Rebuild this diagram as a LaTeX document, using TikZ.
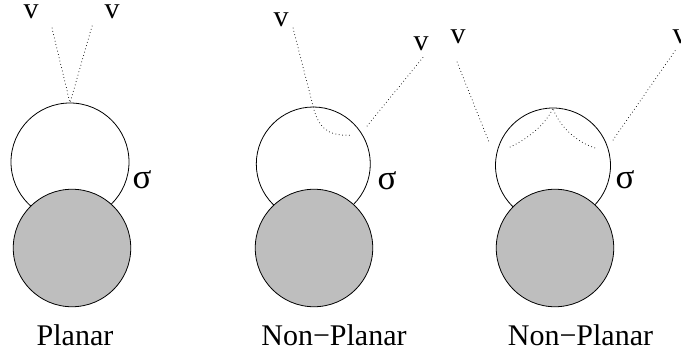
\documentclass[tikz,border=0pt]{standalone}
\usepackage{fontspec}
\setmainfont{Liberation Serif}
\definecolor{sphgray}{RGB}{190,190,190}
\begin{document}
\begin{tikzpicture}[x=1pt,y=-1pt,
  wsph/.style={circle,draw=black,line width=0.8pt,fill=white,inner sep=0pt,outer sep=0pt},
  gsph/.style={circle,draw=black,line width=0.8pt,fill=sphgray,inner sep=0pt,outer sep=0pt,minimum size=117.5pt},
  dotline/.style={line width=1pt,line cap=round,dash pattern=on 0pt off 3.4pt},
  lbl/.style={anchor=base,inner sep=0pt,font=\fontsize{30}{36}\selectfont},
  slbl/.style={anchor=base,inner sep=0pt,font=\fontsize{35}{40}\selectfont},
  vlbl/.style={anchor=base,inner sep=0pt,font=\fontsize{30}{36}\selectfont}
]
\useasboundingbox (0,0) rectangle (681,356);

% white spheres
\node[wsph,minimum size=118pt] (w1) at (70,162) {};
\node[wsph,minimum size=114pt] (w2) at (313.3,164) {};
\node[wsph,minimum size=115pt] (w3) at (553,165.5) {};

% v labels
\node[vlbl] (v1a) at (31,18) {v};
\node[vlbl] (v1b) at (112,18) {v};
\node[vlbl] (v2a) at (281,27) {v};
\node[vlbl] (v2b) at (421,50) {v};
\node[vlbl] (v3a) at (458,43) {v};
\node[vlbl] (v3b) at (680,43) {v};

% line end coordinates
\coordinate (a1) at (52,28);
\coordinate (b1) at (92,26);
\coordinate (c2) at (293,28);
\coordinate (c2e) at (352,135);
\coordinate (d2) at (367,126);
\coordinate (e2) at (425,55);
\coordinate (f3) at (457,62);
\coordinate (g3) at (489,142);
\coordinate (h3) at (510,147);
\coordinate (i3) at (595,148);
\coordinate (j3) at (613,140);
\coordinate (k3) at (677,48);

% dotted lines
\draw[dotline] (a1) -- (w1.north);
\draw[dotline] (b1) -- (w1.north);
\draw[dotline] (c2) -- (w2.north) .. controls (318,127) and (328,137) .. (c2e);
\draw[dotline] (d2) -- (e2);
\draw[dotline] (f3) -- (g3);
\draw[dotline] (h3) .. controls (528,139) and (546,124) .. (w3.north)
  .. controls (558,124) and (574,141) .. (i3);
\draw[dotline] (j3) -- (k3);

% sigma labels
\node[slbl] (s1) at (142,188) {σ};
\node[slbl] (s2) at (387,189) {σ};
\node[slbl] (s3) at (625,188) {σ};

% grey spheres
\node[gsph] (g1) at (72,248) {};
\node[gsph] (g2) at (314,248) {};
\node[gsph] (g3s) at (555,248) {};

% captions
\node[lbl] (t1) at (75,345) {Planar};
\node[lbl] (t2) at (334,345) {Non−Planar};
\node[lbl] (t3) at (580.5,345) {Non−Planar};
\end{tikzpicture}
\end{document}
